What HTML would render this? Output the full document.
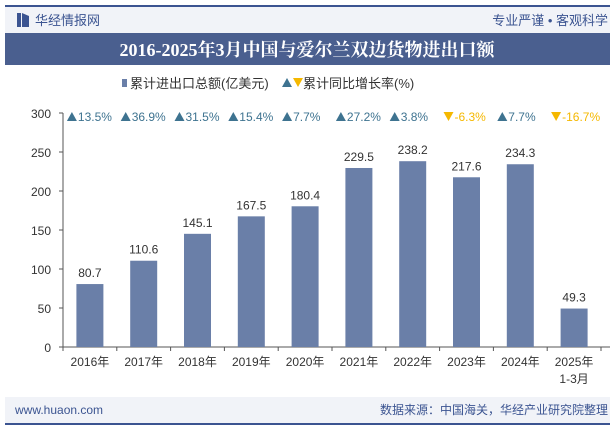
<!DOCTYPE html>
<html><head><meta charset="utf-8"><style>
body{margin:0;width:615px;height:427px;background:#fff;overflow:hidden;font-family:"Liberation Sans","Noto Sans CJK SC",sans-serif}
</style></head><body>
<svg width="615" height="427" xmlns="http://www.w3.org/2000/svg" font-family="Liberation Sans, Noto Sans CJK SC, sans-serif">
<rect x="5" y="5" width="605" height="2" fill="#3b5491"/>
<rect x="5" y="7" width="605" height="26" fill="#f1f3f8"/>
<rect x="17" y="13" width="4" height="14" fill="#3b5491"/><polygon points="22,13 29,16 29,27 22,27" fill="#3b5491"/>
<text x="35" y="25" font-size="13" fill="#3b5491">华经情报网</text>
<text x="608" y="25" font-size="13" fill="#3b5491" text-anchor="end">专业严谨 • 客观科学</text>
<rect x="5" y="33" width="605" height="32" fill="#4a5f8f"/>
<text x="307" y="56" font-size="18" font-weight="bold" fill="#fff" text-anchor="middle" font-family="Liberation Serif, Noto Serif CJK SC, serif">2016-2025年3月中国与爱尔兰双边货物进出口额</text>
<g>
<rect x="122" y="79" width="5" height="8" fill="#6a7fa8"/>
<text x="130" y="88" font-size="13" fill="#333">累计进出口总额(亿美元)</text>
<polygon points="282,87 287,78 292,87" fill="#3e7390"/><polygon points="293,78 303,78 298,87" fill="#f5b800"/>
<text x="303" y="88" font-size="13" fill="#333">累计同比增长率(%)</text>
</g>
<g id="axes"></g><g id="bars"></g>
<rect x="5" y="397" width="605" height="26" fill="#f1f3f8"/>
<rect x="5" y="423" width="605" height="2" fill="#3b5491"/>
<text x="15" y="414" font-size="12" fill="#3b5491">www.huaon.com</text>
<text x="608" y="414" font-size="12" fill="#3b5491" text-anchor="end">数据来源：中国海关，华经产业研究院整理</text>
</svg>
<script>
const categories=["2016年","2017年","2018年","2019年","2020年","2021年","2022年","2023年","2024年","2025年"];
const totals=[80.7,110.6,145.1,167.5,180.4,229.5,238.2,217.6,234.3,49.3];
const growth=[13.5,36.9,31.5,15.4,7.7,27.2,3.8,-6.3,7.7,-16.7];
const yTicks=[0,50,100,150,200,250,300];
const NS="http://www.w3.org/2000/svg";
const x0=63,x1=601,y0=347,yTop=113,bw=(x1-x0)/categories.length;
const ys=v=>y0-(v/300)*(y0-yTop);
const xc=i=>x0+bw*(i+0.5);
function mk(t,a,p){const e=document.createElementNS(NS,t);for(const k in a)e.setAttribute(k,a[k]);p.appendChild(e);return e;}
const ax=document.getElementById('axes'),bg=document.getElementById('bars');
const yl=mk('line',{x1:x0,y1:yTop,x2:x0,y2:y0,stroke:'#555'},ax);


const xl=mk('line',{x1:x0,y1:y0,x2:x1+9,y2:y0,stroke:'#555'},ax);


yTicks.forEach(v=>{mk('line',{x1:x0-4,y1:ys(v),x2:x0,y2:ys(v),stroke:'#555'},ax);
const t=mk('text',{x:x0-12,y:ys(v)+5,'font-size':12,fill:'#333','text-anchor':'end'},ax);t.textContent=v;

});
for(let i=0;i<=categories.length;i++)mk('line',{x1:x0+bw*i,y1:y0,x2:x0+bw*i,y2:y0+4,stroke:'#555'},ax);
categories.forEach((c,i)=>{
const cx=xc(i),v=totals[i];
const r=mk('rect',{x:cx-13.5,y:ys(v),width:27,height:y0-ys(v),fill:'#6a7fa8'},bg);


const l=mk('text',{x:cx,y:ys(v)-7,'font-size':12,fill:'#333','text-anchor':'middle'},bg);l.textContent=v.toFixed(1);


const t=mk('text',{x:cx,y:366,'font-size':12,fill:'#333','text-anchor':'middle'},bg);t.textContent=c;


if(i==categories.length-1){const t2=mk('text',{x:cx,y:383,'font-size':12,fill:'#333','text-anchor':'middle'},bg);t2.textContent='1-3月';

}
const g=growth[i],up=g>=0,col=up?'#3e7390':'#f5b800',gx=cx-23;
mk('polygon',{points:up?`${gx},121 ${gx+5},112 ${gx+10},121`:`${gx},112 ${gx+10},112 ${gx+5},121`,fill:col},bg);
const gt=mk('text',{x:gx+11,y:121,'font-size':12,fill:col},bg);gt.textContent=g.toFixed(1)+'%';


});
</script>
</body></html>
